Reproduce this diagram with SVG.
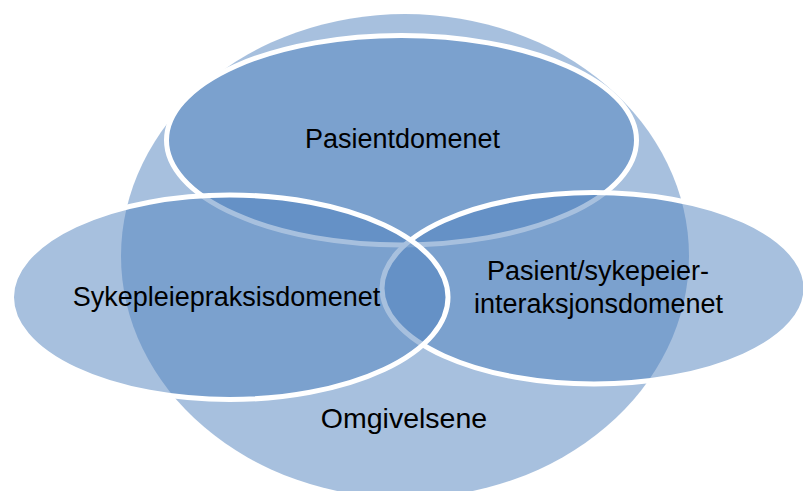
<svg xmlns="http://www.w3.org/2000/svg" width="803" height="491" viewBox="0 0 803 491">
  <style>
    .shape { fill: #4F81BD; fill-opacity: 0.5; stroke: #FFFFFF; stroke-width: 5; }
    .outer { fill: #4F81BD; fill-opacity: 0.5; stroke: none; }
    .label { font-family: "Liberation Sans", Arial, sans-serif; font-size: 27px; fill: #000000; text-anchor: middle; }
  </style>
  <rect x="0" y="0" width="803" height="491" fill="#FFFFFF"/>
  <g id="omgivelsene">
    <ellipse class="outer" cx="405" cy="256" rx="284" ry="242"/>
  </g>
  <g id="pasientdomenet">
    <ellipse class="shape" cx="401.5" cy="140.25" rx="235" ry="104.75"/>
  </g>
  <g id="interaksjonsdomenet">
    <ellipse class="shape" cx="594" cy="288.25" rx="212" ry="95.75"/>
  </g>
  <g id="sykepleiepraksisdomenet">
    <ellipse class="shape" cx="229.75" cy="297.25" rx="218.25" ry="102.25"/>
  </g>
  <g id="labels">
    <text class="label" x="402.5" y="148">Pasientdomenet</text>
    <text class="label" x="226.5" y="306">Sykepleiepraksisdomenet</text>
    <text class="label" x="598" y="280">Pasient/sykepeier-</text>
    <text class="label" x="598.5" y="313">interaksjonsdomenet</text>
    <text class="label" x="404" y="428" style="font-size:28.5px">Omgivelsene</text>
  </g>
</svg>
